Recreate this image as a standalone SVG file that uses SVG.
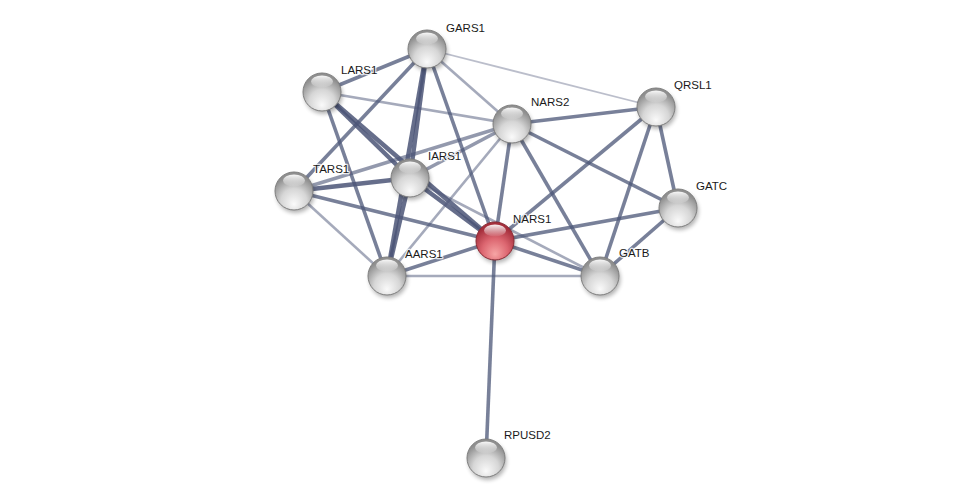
<svg xmlns="http://www.w3.org/2000/svg" width="976" height="503" viewBox="0 0 976 503">
<style>
.e{stroke:#4b5577;fill:none;stroke-linecap:butt}
.t{stroke-width:4.5;stroke-opacity:0.85}
.m{stroke-width:3.6;stroke-opacity:0.75}
.l{stroke-width:2.6;stroke-opacity:0.5}
.x{stroke-width:1.8;stroke-opacity:0.38}
.lab{font-family:"Liberation Sans",Arial,sans-serif;font-size:11.5px;fill:#1a1a1a;stroke:#ffffff;stroke-width:2.5;stroke-opacity:0.8;paint-order:stroke;stroke-linejoin:round}
</style>
<defs>
<radialGradient id="gw" cx="50%" cy="72%" r="62%" fx="50%" fy="85%">
<stop offset="0%" stop-color="#fafafa"/>
<stop offset="55%" stop-color="#d6d6d6"/>
<stop offset="100%" stop-color="#8f8f8f"/>
</radialGradient>
<radialGradient id="gr" cx="50%" cy="72%" r="62%" fx="50%" fy="85%">
<stop offset="0%" stop-color="#f7a5a5"/>
<stop offset="55%" stop-color="#dc6670"/>
<stop offset="100%" stop-color="#a52f3c"/>
</radialGradient>
<linearGradient id="hl" x1="0" y1="0" x2="0" y2="1">
<stop offset="0%" stop-color="#ffffff" stop-opacity="0.95"/>
<stop offset="100%" stop-color="#ffffff" stop-opacity="0.05"/>
</linearGradient>
<filter id="sh" x="-50%" y="-50%" width="200%" height="200%">
<feGaussianBlur stdDeviation="2"/>
</filter>
<g id="ball">
<ellipse cx="1.5" cy="3" rx="19" ry="19" fill="#000" opacity="0.3" filter="url(#sh)"/>
</g>
</defs>
<g id="edges">
<line class="e x" x1="427" y1="49" x2="656" y2="107"/>
<line class="e l" x1="427" y1="49" x2="512" y2="124"/>
<line class="e l" x1="294" y1="191" x2="387" y2="276"/>
<line class="e l" x1="322" y1="92" x2="512" y2="124"/>
<line class="e l" x1="387" y1="276" x2="512" y2="124"/>
<line class="e l" x1="410" y1="178" x2="600" y2="276"/>
<line class="e l" x1="387" y1="276" x2="600" y2="276"/>
<line class="e m" x1="294" y1="191" x2="512" y2="124" style="stroke-opacity:0.6"/>
<line class="e m" x1="410" y1="178" x2="512" y2="124" style="stroke-opacity:0.6"/>
<line class="e m" x1="427" y1="49" x2="322" y2="92"/>
<line class="e m" x1="427" y1="49" x2="294" y2="191"/>
<line class="e m" x1="427" y1="49" x2="495" y2="241"/>
<line class="e m" x1="322" y1="92" x2="387" y2="276"/>
<line class="e m" x1="294" y1="191" x2="495" y2="241"/>
<line class="e m" x1="387" y1="276" x2="495" y2="241"/>
<line class="e m" x1="512" y1="124" x2="656" y2="107"/>
<line class="e m" x1="512" y1="124" x2="495" y2="241"/>
<line class="e m" x1="512" y1="124" x2="600" y2="276"/>
<line class="e m" x1="512" y1="124" x2="678" y2="208"/>
<line class="e m" x1="656" y1="107" x2="495" y2="241"/>
<line class="e m" x1="656" y1="107" x2="600" y2="276"/>
<line class="e m" x1="656" y1="107" x2="678" y2="208"/>
<line class="e m" x1="678" y1="208" x2="495" y2="241"/>
<line class="e m" x1="678" y1="208" x2="600" y2="276"/>
<line class="e m" x1="495" y1="241" x2="600" y2="276"/>
<line class="e m" x1="495" y1="241" x2="486" y2="458"/>
<line class="e t" x1="427" y1="49" x2="410" y2="178"/>
<line class="e t" x1="427" y1="49" x2="387" y2="276"/>
<line class="e t" x1="322" y1="92" x2="410" y2="178"/>
<line class="e t" x1="322" y1="92" x2="495" y2="241"/>
<line class="e t" x1="410" y1="178" x2="387" y2="276"/>
<line class="e t" x1="410" y1="178" x2="495" y2="241"/>
<line class="e t" x1="294" y1="191" x2="410" y2="178"/>
</g>
<g id="GARS1"><use href="#ball" x="427" y="49"/><circle cx="427" cy="49" r="19" fill="url(#gw)" stroke="#7f7f7f"/><ellipse cx="427" cy="38.5" rx="11" ry="6" fill="url(#hl)"/><text class="lab" x="446" y="32">GARS1</text></g>
<g id="LARS1"><use href="#ball" x="322" y="92"/><circle cx="322" cy="92" r="19" fill="url(#gw)" stroke="#7f7f7f"/><ellipse cx="322" cy="81.5" rx="11" ry="6" fill="url(#hl)"/><text class="lab" x="341" y="74">LARS1</text></g>
<g id="NARS2"><use href="#ball" x="512" y="124"/><circle cx="512" cy="124" r="19" fill="url(#gw)" stroke="#7f7f7f"/><ellipse cx="512" cy="113.5" rx="11" ry="6" fill="url(#hl)"/><text class="lab" x="531" y="106">NARS2</text></g>
<g id="QRSL1"><use href="#ball" x="656" y="107"/><circle cx="656" cy="107" r="19" fill="url(#gw)" stroke="#7f7f7f"/><ellipse cx="656" cy="96.5" rx="11" ry="6" fill="url(#hl)"/><text class="lab" x="674" y="89">QRSL1</text></g>
<g id="IARS1"><use href="#ball" x="410" y="178"/><circle cx="410" cy="178" r="19" fill="url(#gw)" stroke="#7f7f7f"/><ellipse cx="410" cy="167.5" rx="11" ry="6" fill="url(#hl)"/><text class="lab" x="428" y="160">IARS1</text></g>
<g id="TARS1"><use href="#ball" x="294" y="191"/><circle cx="294" cy="191" r="19" fill="url(#gw)" stroke="#7f7f7f"/><ellipse cx="294" cy="180.5" rx="11" ry="6" fill="url(#hl)"/><text class="lab" x="313" y="173">TARS1</text></g>
<g id="GATC"><use href="#ball" x="678" y="208"/><circle cx="678" cy="208" r="19" fill="url(#gw)" stroke="#7f7f7f"/><ellipse cx="678" cy="197.5" rx="11" ry="6" fill="url(#hl)"/><text class="lab" x="696" y="190">GATC</text></g>
<g id="NARS1"><use href="#ball" x="495" y="241"/><circle cx="495" cy="241" r="19" fill="url(#gr)" stroke="#8a2a34"/><ellipse cx="495" cy="230.5" rx="11" ry="6" fill="url(#hl)"/><text class="lab" x="513" y="223">NARS1</text></g>
<g id="AARS1"><use href="#ball" x="387" y="276"/><circle cx="387" cy="276" r="19" fill="url(#gw)" stroke="#7f7f7f"/><ellipse cx="387" cy="265.5" rx="11" ry="6" fill="url(#hl)"/><text class="lab" x="405" y="258">AARS1</text></g>
<g id="GATB"><use href="#ball" x="600" y="276"/><circle cx="600" cy="276" r="19" fill="url(#gw)" stroke="#7f7f7f"/><ellipse cx="600" cy="265.5" rx="11" ry="6" fill="url(#hl)"/><text class="lab" x="619" y="257">GATB</text></g>
<g id="RPUSD2"><use href="#ball" x="486" y="458"/><circle cx="486" cy="458" r="19" fill="url(#gw)" stroke="#7f7f7f"/><ellipse cx="486" cy="447.5" rx="11" ry="6" fill="url(#hl)"/><text class="lab" x="504" y="439">RPUSD2</text></g>
</svg>
